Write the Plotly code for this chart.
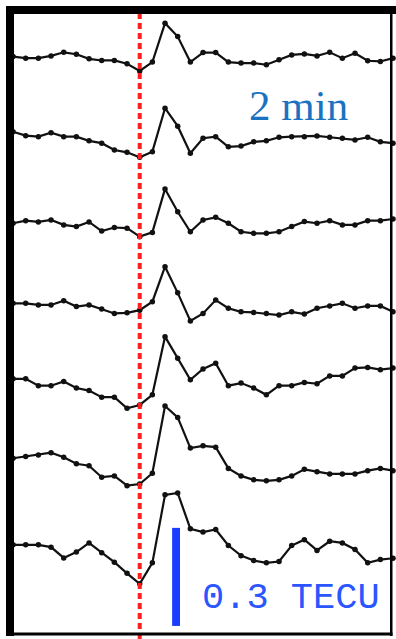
import plotly.graph_objects as go

# time relative to onset (minutes), 30-s sampling
time_min = [-5.0, -4.5, -4.0, -3.5, -3.0, -2.5, -2.0, -1.5, -1.0, -0.5, 0.0,
            0.5, 1.0, 1.5, 2.0, 2.5, 3.0, 3.5, 4.0, 4.5, 5.0,
            5.5, 6.0, 6.5, 7.0, 7.5, 8.0, 8.5, 9.0, 9.5, 10.0]

# vertical offset of each trace (TECU)
trace_offset = [1.782, 1.552, 1.272, 1.027, 0.796, 0.553, 0.288]

# dTEC series (TECU), top to bottom
dtec_1 = [0, -0.005, -0.005, 0.002, 0.013, 0.007, -0.007, -0.012, -0.012, -0.022, -0.044,
          -0.017, 0.102, 0.061, -0.017, 0.012, 0.012, -0.017, -0.020, -0.020, -0.025,
          -0.010, 0.005, 0.008, 0.002, 0.013, -0.005, 0.010, -0.013, -0.015, -0.005]
dtec_2 = [0, -0.012, -0.015, -0.003, -0.015, -0.015, -0.028, -0.035, -0.056, -0.063, -0.078,
          -0.061, 0.072, 0.017, -0.066, -0.020, -0.015, -0.046, -0.044, -0.031, -0.028,
          -0.017, -0.015, -0.015, -0.013, -0.017, -0.020, -0.025, -0.017, -0.031, -0.035]
dtec_3 = [0, 0.008, 0.004, 0.010, -0.005, -0.010, 0.004, -0.024, -0.013, -0.015, -0.041,
          -0.028, 0.105, 0.035, -0.026, 0.010, 0.018, 0.0, -0.026, -0.031, -0.031,
          -0.026, -0.010, 0.005, 0.0, 0.008, -0.005, -0.005, 0.008, 0.008, 0.013]
dtec_4 = [0, 0, -0.005, -0.005, 0.008, -0.010, -0.005, -0.017, -0.031, -0.029, -0.021,
          0.005, 0.112, 0.032, -0.054, -0.031, 0.010, -0.015, -0.026, -0.028, -0.031,
          -0.036, -0.026, -0.033, -0.015, -0.008, 0.0, -0.015, -0.008, -0.008, -0.026]
dtec_5 = [0, 0, -0.021, -0.021, -0.008, -0.028, -0.036, -0.056, -0.056, -0.090, -0.080,
          -0.049, 0.129, 0.063, -0.003, 0.030, 0.048, -0.021, -0.013, -0.028, -0.049,
          -0.021, -0.021, -0.011, -0.015, 0.009, 0.009, 0.033, 0.035, 0.028, 0.033]
dtec_6 = [0, 0.005, 0.010, 0.017, 0.003, -0.017, -0.023, -0.058, -0.054, -0.084, -0.079,
          -0.046, 0.160, 0.125, 0.031, 0.038, 0.034, -0.031, -0.054, -0.066, -0.069,
          -0.066, -0.054, -0.034, -0.041, -0.048, -0.048, -0.048, -0.038, -0.031, -0.038]
dtec_7 = [0, 0, 0, -0.007, -0.040, -0.022, 0.006, -0.024, -0.053, -0.087, -0.119,
          -0.055, 0.153, 0.159, 0.049, 0.039, 0.047, -0.002, -0.033, -0.048, -0.055,
          -0.051, -0.002, 0.016, -0.017, 0.011, 0.006, -0.014, -0.055, -0.045, -0.041]

series = [dtec_1, dtec_2, dtec_3, dtec_4, dtec_5, dtec_6, dtec_7]

scale_bar_tecu = 0.3
time_label = "2 min"
scale_label = "0.3 TECU"

W, H = 396, 639

fig = go.Figure()
for off, vals in zip(trace_offset, series):
    fig.add_trace(go.Scatter(
        x=time_min, y=[off + v for v in vals],
        mode="lines+markers",
        line=dict(color="#111111", width=2.2),
        marker=dict(color="#111111", size=5.5),
        showlegend=False, hoverinfo="skip"))

def px(x):
    return x / W

def py(y):
    return 1 - y / H

shapes = []
# onset line
shapes.append(dict(type="line", xref="x", yref="paper", x0=0, x1=0,
                   y0=py(639), y1=py(12),
                   line=dict(color="#ff1f1f", width=4, dash="6px,4px")))
# scale bar
shapes.append(dict(type="rect", xref="x", yref="y", x0=1.28, x1=1.59,
                   y0=0.040, y1=0.040 + scale_bar_tecu,
                   fillcolor="#1a3cff", line=dict(width=0)))
# frame
frame = [(6, 6, 14, 636), (6, 6, 396, 14), (390, 6, 392.5, 636), (6, 632.5, 392.5, 635.5)]
for x0, y0, x1, y1 in frame:
    shapes.append(dict(type="rect", xref="paper", yref="paper",
                       x0=px(x0), x1=px(x1), y0=py(y1), y1=py(y0),
                       fillcolor="black", line=dict(width=0)))

annotations = [
    dict(text=time_label, xref="paper", yref="paper", x=px(298), y=py(106),
         xanchor="center", yanchor="middle", showarrow=False,
         font=dict(family="Liberation Serif", size=43, color="#1a72c0")),
    dict(text=scale_label, xref="paper", yref="paper", x=px(291), y=py(598),
         xanchor="center", yanchor="middle", showarrow=False,
         font=dict(family="Liberation Mono", size=37, color="#2a55ff")),
]

fig.update_layout(
    width=W, height=H,
    margin=dict(l=0, r=0, t=0, b=0),
    paper_bgcolor="white", plot_bgcolor="white",
    xaxis=dict(range=[-5.515, 10.118], visible=False, fixedrange=True),
    yaxis=dict(range=[0, 1.955], visible=False, fixedrange=True),
    shapes=shapes, annotations=annotations,
)

fig.write_html("out.html", config={"displayModeBar": False},
               post_script="document.body.style.margin='0';")
